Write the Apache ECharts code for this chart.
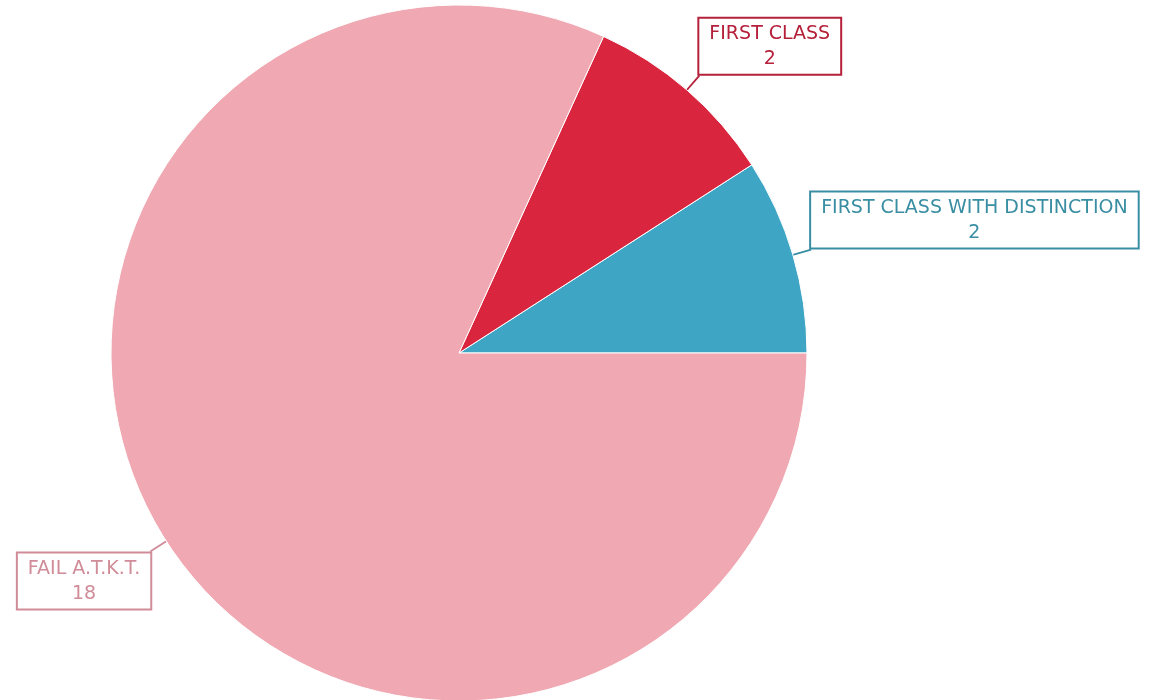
<!DOCTYPE html>
<html>
<head>
<meta charset="utf-8">
<script src="https://cdn.jsdelivr.net/npm/echarts@6/dist/echarts.min.js"></script>
<style>
  html, body { margin: 0; padding: 0; background: #fff; }
  #chart { width: 1172px; height: 700px; }
</style>
</head>
<body>
<div id="chart"></div>
<script>
// results per class
var categories = ["FIRST CLASS WITH DISTINCTION", "FIRST CLASS", "FAIL A.T.K.T."];
var counts = [2, 2, 18];
var sliceColors = ["#3ea6c4", "#da253e", "#f0a8b2"];
var labelColors = ["#3a8ea3", "#b5203a", "#d08c98"];

var data = categories.map(function (name, i) {
  return {
    name: name,
    value: counts[i],
    itemStyle: { color: sliceColors[i] },
    label: { color: labelColors[i], borderColor: labelColors[i] },
    labelLine: { lineStyle: { color: labelColors[i] } }
  };
});

var myChart = echarts.init(document.getElementById("chart"), null, { renderer: "canvas" });
myChart.setOption({
  animation: false,
  series: [
    {
      type: "pie",
      center: [459, 353],
      radius: 348,
      startAngle: 0,
      clockwise: false,
      itemStyle: { borderColor: "#fff", borderWidth: 1 },
      label: {
        show: true,
        formatter: "{t|{b}}\n{t|{c}}",
        distanceToLabelLine: 0,
        backgroundColor: "#fff",
        borderWidth: 2,
        padding: [3, 10, 2, 10],
        rich: {
          t: { fontFamily: "DejaVu Sans", fontSize: 19, lineHeight: 25, align: "center" }
        }
      },
      labelLine: { show: true, length: 19, length2: 0, lineStyle: { width: 1.8 } },
      labelLayout: function (params) {
        // attach the line to a box corner instead of the side middle
        var h = params.labelRect.height;
        var up = params.labelRect.y + h / 2 < 353;
        return { dy: up ? -h / 2 : h / 2 };
      },
      data: data
    }
  ]
});
</script>
</body>
</html>
